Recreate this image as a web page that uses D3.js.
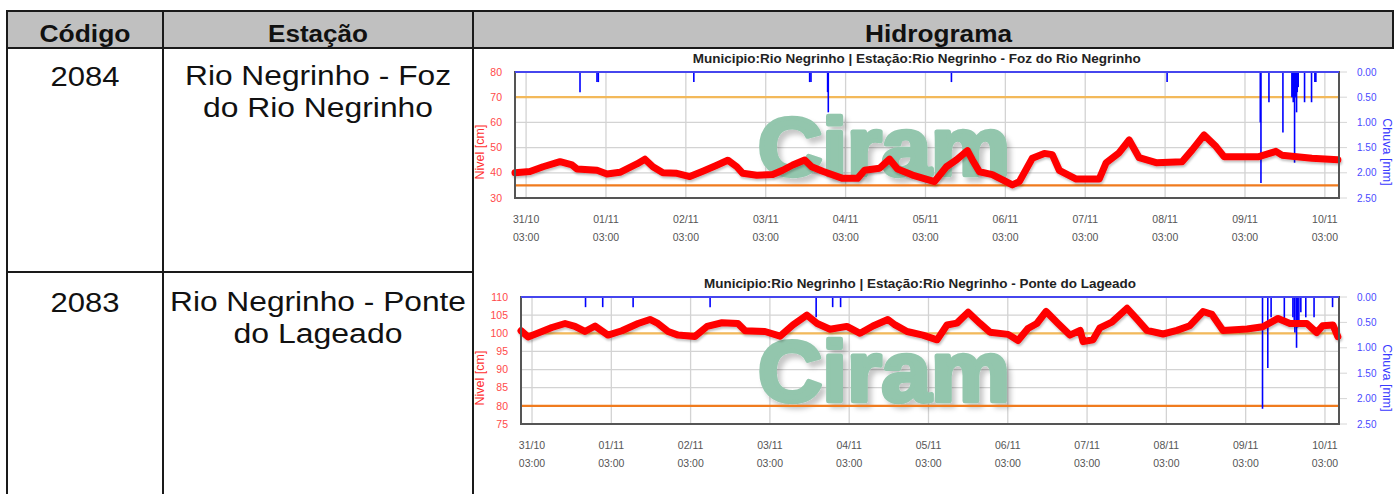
<!DOCTYPE html>
<html>
<head>
<meta charset="utf-8">
<script src="https://cdn.jsdelivr.net/npm/d3@7"></script>
<style>
  html, body { margin: 0; padding: 0; background: #fff; }
  svg { display: block; font-family: "Liberation Sans", Arial, sans-serif; }
</style>
</head>
<body>
<svg id="page" width="1399" height="494"></svg>
<script>
// ── dados ────────────────────────────────────────────────────────────────
const colunas  = ["Código", "Estação", "Hidrograma"];
const codigos  = ["2084", "2083"];
const estacoes = [["Rio Negrinho - Foz", "do Rio Negrinho"], ["Rio Negrinho - Ponte", "do Lageado"]];
const titulos  = [
  "Municipio:Rio Negrinho | Estação:Rio Negrinho - Foz do Rio Negrinho",
  "Municipio:Rio Negrinho | Estação:Rio Negrinho - Ponte do Lageado"
];

const periodo   = ["30/10 23:40", "10/11 07:15"];
const dias      = ["31/10", "01/11", "02/11", "03/11", "04/11", "05/11", "06/11", "07/11", "08/11", "09/11", "10/11"];
const horaTick  = "03:00";
const chuvaTicks = [0, 0.5, 1, 1.5, 2, 2.5];

const fozTicks   = [30, 40, 50, 60, 70, 80];
const fozLimites = [70, 35];
const fozNivel = [
  ["30/10 23:40", 40], ["31/10 04:10", 40.5], ["31/10 08:06", 42.4], ["31/10 13:12", 44.4],
  ["31/10 16:48", 43.1], ["31/10 18:18", 41.5], ["01/11 00:18", 41], ["01/11 03:18", 39.5],
  ["01/11 07:12", 40.2], ["01/11 12:18", 43.5], ["01/11 14:42", 45.4], ["01/11 17:06", 42.4],
  ["01/11 20:06", 40], ["02/11 00:18", 39.8], ["02/11 04:12", 38.5], ["02/11 08:06", 40.6],
  ["02/11 12:18", 43], ["02/11 15:36", 45], ["02/11 18:18", 42.4], ["02/11 20:06", 39.8],
  ["03/11 00:18", 39], ["03/11 05:06", 39.3], ["03/11 08:06", 41], ["03/11 11:06", 43.1],
  ["03/11 14:42", 45.1], ["03/11 16:48", 42.4], ["03/11 20:06", 40.6], ["04/11 02:06", 37.8],
  ["04/11 06:36", 37.8], ["04/11 08:42", 41], ["04/11 13:12", 41.8], ["04/11 16:12", 45.4],
  ["04/11 18:36", 41.5], ["04/11 23:06", 39.1], ["05/11 05:42", 36.5], ["05/11 09:18", 42.4],
  ["05/11 12:18", 45.1], ["05/11 15:36", 48.8], ["05/11 17:06", 45.1], ["05/11 19:12", 40.4],
  ["05/11 23:06", 39.3], ["06/11 05:06", 35.2], ["06/11 07:12", 36.5], ["06/11 11:06", 45.8],
  ["06/11 14:42", 47.7], ["06/11 17:06", 47.2], ["06/11 19:12", 41], ["07/11 00:18", 37.5],
  ["07/11 07:12", 37.5], ["07/11 09:18", 44], ["07/11 13:12", 48], ["07/11 16:12", 53],
  ["07/11 19:12", 46], ["08/11 00:18", 44], ["08/11 08:06", 44.4], ["08/11 11:06", 49],
  ["08/11 14:42", 55], ["08/11 18:18", 50.4], ["08/11 20:42", 46.4], ["09/11 07:12", 46.4],
  ["09/11 12:18", 48.5], ["09/11 14:06", 47], ["09/11 23:06", 45.8], ["10/11 06:54", 45.2]
];
const fozChuva = [
  ["31/10 19:12", 0.4], ["01/11 00:18", 0.2], ["01/11 00:42", 0.2], ["02/11 05:24", 0.2],
  ["03/11 16:12", 0.2], ["03/11 16:36", 0.2], ["03/11 21:36", 0.4], ["03/11 21:48", 0.8],
  ["05/11 10:48", 0.2], ["08/11 03:36", 0.2], ["09/11 07:36", 1.0], ["09/11 07:48", 2.2],
  ["09/11 10:12", 0.6], ["09/11 14:24", 1.2], ["09/11 17:06", 0.5], ["09/11 17:18", 0.5],
  ["09/11 17:30", 0.6], ["09/11 17:42", 0.5], ["09/11 17:54", 1.8], ["09/11 18:06", 0.5],
  ["09/11 18:18", 0.5], ["09/11 18:30", 0.8], ["09/11 18:42", 0.4], ["09/11 19:00", 0.3],
  ["09/11 20:54", 0.6], ["09/11 23:00", 0.6], ["10/11 00:00", 0.2], ["10/11 00:18", 0.2]
];

const ponteTicks   = [75, 80, 85, 90, 95, 100, 105, 110];
const ponteLimites = [100, 80];
const ponteNivel = [
  ["30/10 23:40", 100.7], ["31/10 01:48", 99.0], ["31/10 06:00", 100.5], ["31/10 09:00", 101.6],
  ["31/10 13:00", 102.7], ["31/10 16:00", 101.9], ["31/10 19:00", 100.5], ["31/10 22:06", 102],
  ["01/11 02:00", 99.5], ["01/11 06:12", 100.7], ["01/11 11:06", 102.7], ["01/11 14:42", 103.8],
  ["01/11 17:06", 102.7], ["01/11 20:12", 100.5], ["01/11 23:12", 99.5], ["02/11 04:18", 99.1],
  ["02/11 08:00", 101.9], ["02/11 12:30", 102.9], ["02/11 17:18", 102.7], ["02/11 19:30", 100.7],
  ["03/11 01:30", 100.5], ["03/11 06:06", 99.2], ["03/11 10:00", 102.3], ["03/11 14:12", 105],
  ["03/11 17:18", 102.7], ["03/11 21:12", 101.1], ["04/11 02:18", 101.9], ["04/11 06:18", 100],
  ["04/11 10:12", 102], ["04/11 14:42", 103.8], ["04/11 16:54", 102.3], ["04/11 20:30", 100.5],
  ["05/11 01:18", 99.5], ["05/11 05:36", 98.2], ["05/11 08:36", 102.3], ["05/11 11:36", 102.8],
  ["05/11 15:00", 105.8], ["05/11 18:36", 102.7], ["05/11 21:36", 100.3], ["06/11 03:06", 99.7],
  ["06/11 06:06", 98], ["06/11 09:06", 101.3], ["06/11 11:48", 102.7], ["06/11 14:36", 106],
  ["06/11 18:12", 102.7], ["06/11 21:48", 99.5], ["07/11 00:54", 100.8], ["07/11 01:48", 97.7],
  ["07/11 04:48", 98.2], ["07/11 06:54", 101.5], ["07/11 10:30", 103.1], ["07/11 15:06", 106.9],
  ["07/11 18:06", 103.9], ["07/11 21:06", 100.8], ["08/11 02:00", 99.8], ["08/11 06:12", 100.8],
  ["08/11 10:06", 102.1], ["08/11 14:06", 106], ["08/11 16:48", 105.2], ["08/11 20:06", 100.8],
  ["09/11 03:24", 101.2], ["09/11 08:12", 101.8], ["09/11 12:48", 104.1], ["09/11 16:24", 102.7],
  ["09/11 21:30", 102.7], ["10/11 00:30", 100.2], ["10/11 02:18", 102.1], ["10/11 05:24", 102.3],
  ["10/11 06:54", 99.1]
];
const ponteChuva = [
  ["31/10 19:12", 0.2], ["01/11 00:24", 0.2], ["01/11 09:36", 0.2], ["02/11 08:54", 0.2],
  ["03/11 17:00", 0.4], ["03/11 22:00", 0.2], ["04/11 00:24", 0.2], ["09/11 08:06", 2.2],
  ["09/11 09:42", 1.4], ["09/11 10:42", 0.4], ["09/11 14:42", 0.45], ["09/11 17:18", 0.4],
  ["09/11 17:42", 0.5], ["09/11 17:54", 0.7], ["09/11 18:24", 1.0], ["09/11 18:42", 0.6],
  ["09/11 19:06", 0.5], ["09/11 19:42", 0.3], ["09/11 21:12", 0.4], ["09/11 23:42", 0.4],
  ["10/11 05:18", 0.2]
];

// ── página ───────────────────────────────────────────────────────────────
const parseT = d3.utcParse("%d/%m %H:%M");
const svg = d3.select("#page");
svg.append("rect").attr("width", 1399).attr("height", 494).attr("fill", "#fff");

const defs = svg.append("defs");
defs.append("filter").attr("id", "wmShadow")
  .attr("x", "-10%").attr("y", "-20%").attr("width", "130%").attr("height", "150%")
  .append("feDropShadow").attr("dx", 4).attr("dy", 5).attr("stdDeviation", 2.5)
  .attr("flood-color", "#000").attr("flood-opacity", 0.22);
defs.append("filter").attr("id", "lineShadow")
  .attr("x", "-5%").attr("y", "-20%").attr("width", "110%").attr("height", "150%")
  .append("feDropShadow").attr("dx", 1).attr("dy", 2).attr("stdDeviation", 1.2)
  .attr("flood-color", "#000").attr("flood-opacity", 0.25);

// ── tabela ───────────────────────────────────────────────────────────────
const tab = svg.append("g").attr("class", "tabela");
tab.append("rect").attr("x", 7).attr("y", 11).attr("width", 1386).attr("height", 37).attr("fill", "#c0c0c0");

function borda(x1, y1, x2, y2) {
  tab.append("line").attr("x1", x1).attr("y1", y1).attr("x2", x2).attr("y2", y2)
    .attr("stroke", "#1a1a1a").attr("stroke-width", 2);
}
borda(6, 11, 1394, 11); borda(6, 48, 1394, 48); borda(7, 272, 473, 272);
borda(7, 10, 7, 494); borda(163, 10, 163, 494); borda(473, 10, 473, 494); borda(1393, 10, 1393, 48);

const cabX = [85, 318, 938.5], cabW = [91, 100, 147];
colunas.forEach((c, i) => {
  tab.append("text").attr("x", cabX[i]).attr("y", 42).attr("text-anchor", "middle")
    .attr("font-size", 23).attr("font-weight", "bold").attr("fill", "#111")
    .attr("textLength", cabW[i]).attr("lengthAdjust", "spacingAndGlyphs").text(c);
});

const linhaY = [[85, 117], [311, 343]];
const estW   = [[266, 230], [296, 169]];
codigos.forEach((c, i) => {
  tab.append("text").attr("x", 85).attr("y", linhaY[i][0] + 1).attr("text-anchor", "middle")
    .attr("font-size", 28).attr("fill", "#111")
    .attr("textLength", 69).attr("lengthAdjust", "spacingAndGlyphs").text(c);
  estacoes[i].forEach((t, j) => {
    tab.append("text").attr("x", 318).attr("y", linhaY[i][j]).attr("text-anchor", "middle")
      .attr("font-size", 27).attr("fill", "#111")
      .attr("textLength", estW[i][j]).attr("lengthAdjust", "spacingAndGlyphs").text(t);
  });
});

// ── hidrogramas ──────────────────────────────────────────────────────────
const graficos = [
  { titulo: titulos[0], nivel: fozNivel, chuva: fozChuva, limites: fozLimites, ticks: fozTicks,
    left: 515, right: 1339, top: 72, bottom: 198, tx: 916.7, ty: 62.7, tw: 448,
    wmY: 175, wmSize: 82 },
  { titulo: titulos[1], nivel: ponteNivel, chuva: ponteChuva, limites: ponteLimites, ticks: ponteTicks,
    left: 521, right: 1339, top: 297, bottom: 424, tx: 920, ty: 287.7, tw: 432,
    wmY: 401, wmSize: 86 }
];

const corLimite = ["#f3b95a", "#f07b1e"];

function desenha(c) {
  const g = svg.append("g").attr("class", "hidrograma");
  const x  = d3.scaleUtc().domain(periodo.map(parseT)).range([c.left, c.right]);
  const y  = d3.scaleLinear().domain(d3.extent(c.ticks)).range([c.bottom, c.top]);
  const yc = d3.scaleLinear().domain([0, 2.5]).range([c.top, c.bottom]);
  const diasT = dias.map(d => parseT(d + " " + horaTick));

  g.append("text").attr("x", c.tx).attr("y", c.ty).attr("text-anchor", "middle")
    .attr("font-size", 12.5).attr("font-weight", "bold").attr("fill", "#222")
    .attr("textLength", c.tw).attr("lengthAdjust", "spacingAndGlyphs").text(c.titulo);

  // grade
  g.append("g").selectAll("line").data(c.ticks).join("line")
    .attr("x1", c.left).attr("x2", c.right).attr("y1", d => y(d)).attr("y2", d => y(d))
    .attr("stroke", "#d3d3d3").attr("stroke-width", 1.2);
  g.append("g").selectAll("line").data(diasT).join("line")
    .attr("x1", d => x(d)).attr("x2", d => x(d)).attr("y1", c.top).attr("y2", c.bottom)
    .attr("stroke", "#d3d3d3").attr("stroke-width", 1.3);
  g.append("g").selectAll("line").data(chuvaTicks).join("line")
    .attr("x1", c.right).attr("x2", c.right + 8).attr("y1", d => yc(d)).attr("y2", d => yc(d))
    .attr("stroke", "#d6d6d6").attr("stroke-width", 1);

  // marca d'água
  g.append("text").attr("x", 758).attr("y", c.wmY)
    .attr("font-size", c.wmSize).attr("font-weight", "bold").attr("fill", "#93c6ad")
    .attr("stroke", "#93c6ad").attr("stroke-width", 4.5).attr("stroke-linejoin", "round")
    .attr("textLength", 252).attr("lengthAdjust", "spacingAndGlyphs")
    .style("filter", "url(#wmShadow)").text("Ciram");

  // limites
  g.append("g").selectAll("line").data(c.limites).join("line")
    .attr("x1", c.left).attr("x2", c.right).attr("y1", d => y(d)).attr("y2", d => y(d))
    .attr("stroke", (d, i) => corLimite[i]).attr("stroke-width", 2.2);

  // chuva
  g.append("g").selectAll("line").data(c.chuva).join("line")
    .attr("x1", d => x(parseT(d[0]))).attr("x2", d => x(parseT(d[0])))
    .attr("y1", c.top).attr("y2", d => yc(d[1]))
    .attr("stroke", "#0000ff").attr("stroke-width", 1.6);

  // nível
  g.append("path").datum(c.nivel)
    .attr("d", d3.line().x(d => x(parseT(d[0]))).y(d => y(d[1])))
    .attr("fill", "none").attr("stroke", "#ff0000").attr("stroke-width", 7)
    .attr("stroke-linejoin", "round").attr("stroke-linecap", "round")
    .style("filter", "url(#lineShadow)");

  // moldura
  g.append("rect").attr("x", c.left).attr("y", c.top)
    .attr("width", c.right - c.left).attr("height", c.bottom - c.top)
    .attr("fill", "none").attr("stroke", "#555").attr("stroke-width", 2);
  g.append("line").attr("x1", c.left).attr("x2", c.right).attr("y1", c.top).attr("y2", c.top)
    .attr("stroke", "#4646ee").attr("stroke-width", 2);

  // eixos
  g.append("g").selectAll("text").data(c.ticks).join("text")
    .attr("x", c.left - 13).attr("y", d => y(d)).attr("dy", "0.35em").attr("text-anchor", "end")
    .attr("font-size", 10.5).attr("fill", "#ff4a4a").text(d => d);
  g.append("g").selectAll("text").data(chuvaTicks).join("text")
    .attr("x", 1357).attr("y", d => yc(d)).attr("dy", "0.35em")
    .attr("font-size", 10).attr("fill", "#4a4aff").text(d3.format(".2f"));
  const xt = g.append("g").selectAll("g").data(diasT).join("g")
    .attr("transform", d => `translate(${x(d)},${c.bottom})`);
  xt.append("text").attr("y", 25).attr("text-anchor", "middle")
    .attr("font-size", 10.5).attr("fill", "#555").text((d, i) => dias[i]);
  xt.append("text").attr("y", 43).attr("text-anchor", "middle")
    .attr("font-size", 10.5).attr("fill", "#555").text(horaTick);

  g.append("text").attr("transform", `translate(484,${c.bottom - 46}) rotate(-90)`)
    .attr("text-anchor", "middle").attr("font-size", 12.5).attr("fill", "#ff3030").text("Nivel [cm]");
  g.append("text").attr("transform", `translate(1383,${c.bottom - 46}) rotate(90)`)
    .attr("text-anchor", "middle").attr("font-size", 12.5).attr("fill", "#3a3aff").text("Chuva [mm]");
}

graficos.forEach(desenha);
</script>
</body>
</html>
